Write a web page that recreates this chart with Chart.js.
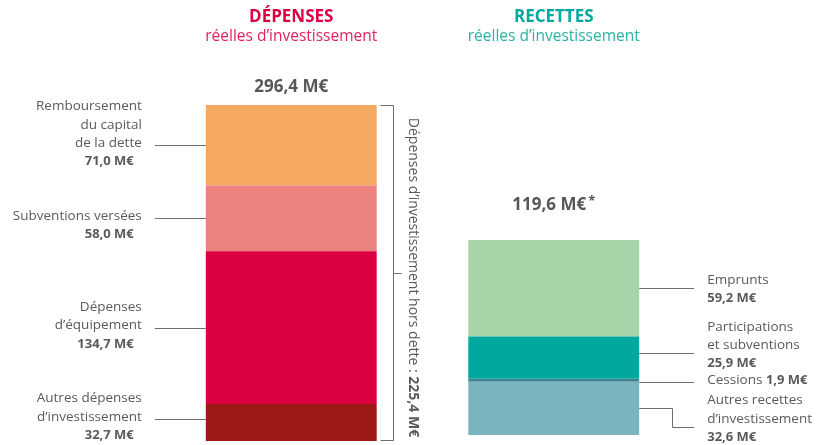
<!DOCTYPE html>
<html>
<head>
<meta charset="utf-8">
<script src="https://cdn.jsdelivr.net/npm/chart.js@4"></script>
<style>
  html, body { margin: 0; background: #fff; }
  #wrap { width: 816px; height: 445px; }
</style>
</head>
<body>
<div id="wrap"><canvas id="chart"></canvas></div>
<script>
// ----- Data (M€), bottom of the stack first -----
const groups = ["DÉPENSES", "RECETTES"];
const subtitle = "réelles d’investissement";

const depLabels = [["Autres dépenses", "d’investissement"], ["Dépenses", "d’équipement"], ["Subventions versées"], ["Remboursement", "du capital", "de la dette"]];
const depValues = [32.7, 134.7, 58.0, 71.0];

const recLabels = [["Autres recettes", "d’investissement"], ["Cessions"], ["Participations", "et subventions"], ["Emprunts"]];
const recValues = [32.6, 1.9, 25.9, 59.2];

const debtText = "Dépenses d’investissement hors dette : ";
const recNote = "*";

// ----- Styles -----
const depColors = ["#9e1a16", "#dc0043", "#eb827e", "#f4a862"];
const recColors = ["#7ab5bf", "#3f8690", "#00a8a0", "#a8d4a9"];
const titleColors = ["#dc0043", "#00a99e"];
const subColors = ["#e0245a", "#2ab2a8"];
const textColor = "#5a5a5a";
const lineColor = "#6e6e6e";
const FONT = '"Open Sans", sans-serif';
const LH = 18.3;

const sum = a => a.reduce((s, v) => s + v, 0);
const fmt = v => v.toFixed(1).replace(".", ",") + " M€";

const depTotal = sum(depValues);
const recTotal = sum(recValues);

// the receipts bar uses its own scale (0 at y=435, total at y=240 of a 105..441 area)
const areaTop = 105, areaBottom = 441, recTop = 240, recBase = 435;
const k = recTotal / (recBase - recTop);
const recMin = -(areaBottom - recBase) * k;
const recMax = recTotal + (recTop - areaTop) * k;

function layout(items, maxY, gap) {
  let prev = -Infinity;
  items.forEach(it => {
    it.y = Math.max(it.want, prev + it.up);
    prev = it.y + it.down + gap;
  });
  let next = maxY;
  for (let i = items.length - 1; i >= 0; i--) {
    const it = items[i];
    it.y = Math.min(it.y, next - it.down);
    next = it.y - it.up - gap;
  }
}

function leader(ctx, xBar, xEnd, xElbow, ySeg, yLab) {
  ctx.beginPath();
  if (Math.abs(ySeg - yLab) <= 6) {
    const y = Math.round(yLab) + 0.5;
    ctx.moveTo(xBar, y);
    ctx.lineTo(xEnd, y);
  } else {
    const y0 = Math.round(ySeg) + 0.5, y1 = Math.round(yLab) + 0.5, xe = Math.round(xElbow) + 0.5;
    ctx.moveTo(xBar, y0);
    ctx.lineTo(xe, y0);
    ctx.lineTo(xe, y1);
    ctx.lineTo(xEnd, y1);
  }
  ctx.stroke();
}

const labelPlugin = {
  id: "labels",
  afterDatasetsDraw(chart) {
    const ctx = chart.ctx;
    const nDep = depValues.length;
    const dep = depValues.map((v, i) => chart.getDatasetMeta(i).data[0]);
    const rec = recValues.map((v, i) => chart.getDatasetMeta(nDep + i).data[1]);
    ctx.save();
    ctx.textBaseline = "middle";

    // ----- Titles and totals -----
    [dep, rec].forEach((els, g) => {
      const cx = els[0].x;
      const top = Math.min(...els.map(e => e.y));
      ctx.textAlign = "center";
      ctx.fillStyle = titleColors[g];
      ctx.font = "bold 17px " + FONT;
      ctx.fillText(groups[g], cx, 17);
      ctx.fillStyle = subColors[g];
      ctx.font = "15.5px " + FONT;
      ctx.fillText(subtitle, cx, 37);

      ctx.fillStyle = "#575757";
      ctx.font = "bold 17px " + FONT;
      const txt = fmt(g === 0 ? depTotal : recTotal);
      if (g === 0) {
        ctx.fillText(txt, cx, top - 18);
      } else {
        const w = ctx.measureText(txt).width;
        ctx.font = "bold 13px " + FONT;
        const wn = ctx.measureText(recNote).width + 2;
        ctx.textAlign = "left";
        ctx.font = "bold 17px " + FONT;
        ctx.fillText(txt, cx - (w + wn) / 2, top - 35);
        ctx.font = "bold 13px " + FONT;
        ctx.fillText(recNote, cx - (w + wn) / 2 + w + 2, top - 39);
      }
    });

    ctx.strokeStyle = lineColor;
    ctx.lineWidth = 1;
    ctx.fillStyle = textColor;

    // ----- Left labels (dépenses) -----
    const left = dep[0].x - dep[0].width / 2;
    const depItems = dep.map((el, i) => {
      const n = depLabels[i].length;
      const seg = (el.y + el.base) / 2;
      return { names: depLabels[i], value: depValues[i], seg, want: seg, up: LH * (n - 1) + 10, down: LH + 6 };
    }).reverse();
    layout(depItems, chart.height - 2, 4);
    depItems.forEach(it => {
      const n = it.names.length;
      ctx.textAlign = "right";
      ctx.font = "13.5px " + FONT;
      it.names.forEach((s, j) => ctx.fillText(s, left - 64, it.y - 2 - LH * (n - 1 - j)));
      ctx.font = "bold 13px " + FONT;
      ctx.fillText(fmt(it.value), left - 72, it.y - 2 + LH);
      leader(ctx, left, left - 51, left - 25, it.seg, it.y);
    });

    // ----- Right labels (recettes) -----
    const right = rec[0].x + rec[0].width / 2;
    const recItems = rec.map((el, i) => {
      const n = recLabels[i].length;
      const seg = (el.y + el.base) / 2;
      const inline = el.base - el.y < 12;
      return inline
        ? { names: recLabels[i], value: recValues[i], seg, want: seg, inline, up: 9, down: 7 }
        : { names: recLabels[i], value: recValues[i], seg, want: seg, inline, up: LH * n - 2, down: 17 };
    }).reverse();
    layout(recItems, chart.height - 1, 3);
    recItems.forEach(it => {
      const n = it.names.length;
      const x = right + 68;
      ctx.textAlign = "left";
      if (it.inline) {
        ctx.font = "13.5px " + FONT;
        const s = it.names[0] + " ";
        ctx.fillText(s, x, it.y - 2);
        const w = ctx.measureText(s).width;
        ctx.font = "bold 13px " + FONT;
        ctx.fillText(fmt(it.value), x + w, it.y - 2);
      } else {
        ctx.font = "13.5px " + FONT;
        it.names.forEach((s, j) => ctx.fillText(s, x, it.y + 10 - LH * (n - j)));
        ctx.font = "bold 13px " + FONT;
        ctx.fillText(fmt(it.value), x, it.y + 10);
      }
      leader(ctx, right, right + 55, right + 33, it.seg, it.y);
    });

    // ----- Bracket: dépenses hors dette -----
    const bx = Math.round(left + dep[0].width + 16) + 0.5;
    const bTop = Math.round(Math.min(...dep.map(e => e.y))) + 0.5;
    const bBot = Math.round(dep[0].base) - 0.5;
    const mid = Math.round((bTop + bBot) / 2) + 0.5;
    ctx.beginPath();
    ctx.moveTo(bx - 13, bTop); ctx.lineTo(bx, bTop); ctx.lineTo(bx, bBot); ctx.lineTo(bx - 13, bBot);
    ctx.moveTo(bx, mid); ctx.lineTo(bx + 8, mid);
    ctx.stroke();

    ctx.translate(bx + 19, mid + 4);
    ctx.rotate(Math.PI / 2);
    ctx.font = "14px " + FONT;
    const t1 = ctx.measureText(debtText).width;
    const hd = fmt(depTotal - depValues[depValues.length - 1]);
    ctx.font = "bold 14px " + FONT;
    const t2 = ctx.measureText(hd).width;
    ctx.textAlign = "left";
    ctx.font = "14px " + FONT;
    ctx.fillText(debtText, -(t1 + t2) / 2, 0);
    ctx.font = "bold 14px " + FONT;
    ctx.fillText(hd, -(t1 + t2) / 2 + t1, 0);

    ctx.restore();
  }
};

const datasets = [
  ...depValues.map((v, i) => ({
    label: depLabels[i].join(" "),
    data: [v, null],
    backgroundColor: depColors[i],
    yAxisID: "y"
  })),
  ...recValues.map((v, i) => ({
    label: recLabels[i].join(" "),
    data: [null, v],
    backgroundColor: recColors[i],
    yAxisID: "y2"
  }))
];

new Chart(document.getElementById("chart"), {
  type: "bar",
  data: { labels: groups, datasets },
  options: {
    responsive: true,
    maintainAspectRatio: false,
    animation: false,
    layout: { padding: { left: 160, right: 131, top: areaTop, bottom: 445 - areaBottom } },
    datasets: { bar: { categoryPercentage: 1, barPercentage: 0.651, borderWidth: 0 } },
    plugins: { legend: { display: false }, tooltip: { enabled: false } },
    scales: {
      x: { stacked: true, display: false },
      y: { stacked: true, display: false, min: 0, max: depTotal },
      y2: { stacked: true, display: false, min: recMin, max: recMax }
    }
  },
  plugins: [labelPlugin]
});
</script>
</body>
</html>
